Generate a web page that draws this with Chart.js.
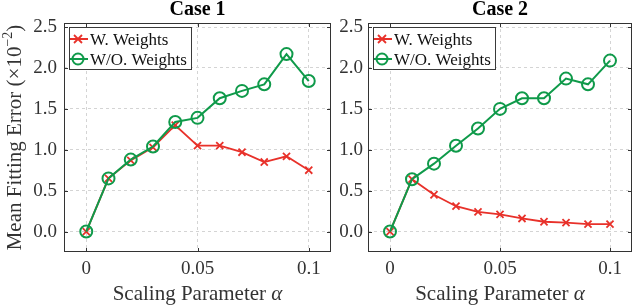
<!DOCTYPE html>
<html>
<head>
<meta charset="utf-8">
<script src="https://cdn.jsdelivr.net/npm/chart.js@4.4.1/dist/chart.umd.min.js"></script>
<style>
  html, body { margin: 0; padding: 0; background: #fff; }
  #wrap { position: relative; width: 640px; height: 305px; overflow: hidden; }
  #c1 { position: absolute; left: 0; top: 0; }
  #c2 { position: absolute; left: 340px; top: 0; }
</style>
</head>
<body>
<div id="wrap">
  <canvas id="c1" width="340" height="305"></canvas>
  <canvas id="c2" width="300" height="305"></canvas>
</div>
<script>
// values (units of 1e-2)
const alphas = [0, 0.01, 0.02, 0.03, 0.04, 0.05, 0.06, 0.07, 0.08, 0.09, 0.1];
const case1Weighted = [0.0, 0.65, 0.87, 1.03, 1.30, 1.05, 1.05, 0.97, 0.85, 0.92, 0.75];
const case1Unweighted = [0.0, 0.65, 0.88, 1.04, 1.34, 1.39, 1.63, 1.72, 1.80, 2.17, 1.84];
const case2Weighted = [0.0, 0.64, 0.45, 0.31, 0.24, 0.21, 0.16, 0.12, 0.11, 0.09, 0.09];
const case2Unweighted = [0.0, 0.64, 0.83, 1.05, 1.26, 1.50, 1.63, 1.63, 1.87, 1.80, 2.09];
const xTicks = [0, 0.05, 0.1];
const yTicks = [0, 0.5, 1.0, 1.5, 2.0, 2.5];
const seriesNames = ['W. Weights', 'W/O. Weights'];
const caseTitles = ['Case 1', 'Case 2'];

const RED = '#e8312a';
const GREEN = '#0f9a4a';
const SERIF = '"Liberation Serif", "Times New Roman", serif';

const toPoints = vals => alphas.map((a, i) => ({ x: a, y: vals[i] }));

// box, inner ticks, title, legend and axis titles
const decor = {
    id: 'decor',
    afterDraw(chart, args, opts) {
        const { ctx, chartArea: a, scales } = chart;
        const xs = scales.x, ys = scales.y;
        ctx.save();

        // axes box
        ctx.strokeStyle = '#333';
        ctx.lineWidth = 1;
        ctx.strokeRect(a.left + 0.5, a.top + 0.5, a.width - 1, a.height - 1);

        // inner tick marks
        ctx.beginPath();
        xTicks.forEach(v => {
            const px = Math.round(xs.getPixelForValue(v)) + 0.5;
            ctx.moveTo(px, a.bottom); ctx.lineTo(px, a.bottom - 4);
            ctx.moveTo(px, a.top); ctx.lineTo(px, a.top + 4);
        });
        yTicks.forEach(v => {
            const py = Math.round(ys.getPixelForValue(v)) + 0.5;
            ctx.moveTo(a.left, py); ctx.lineTo(a.left + 4, py);
            ctx.moveTo(a.right, py); ctx.lineTo(a.right - 4, py);
        });
        ctx.stroke();

        const cx = (a.left + a.right) / 2;

        // title
        ctx.fillStyle = '#000';
        ctx.font = 'bold 20px ' + SERIF;
        ctx.textAlign = 'center';
        ctx.textBaseline = 'alphabetic';
        ctx.fillText(opts.title, cx, 15);

        // legend
        const lx = a.left + 5, ly = a.top + 4;
        ctx.fillStyle = '#fff';
        ctx.fillRect(lx, ly, 122, 42);
        ctx.strokeStyle = '#3a3a3a';
        ctx.strokeRect(lx + 0.5, ly + 0.5, 122, 42);
        const rows = [
            { name: seriesNames[0], color: RED, mark: 'x' },
            { name: seriesNames[1], color: GREEN, mark: 'o' }
        ];
        rows.forEach((r, i) => {
            const cy = ly + 12 + i * 20;
            ctx.strokeStyle = r.color;
            ctx.lineWidth = 2;
            ctx.beginPath();
            ctx.moveTo(lx + 1, cy); ctx.lineTo(lx + 19, cy);
            ctx.stroke();
            const mx = lx + 9;
            ctx.beginPath();
            if (r.mark === 'x') {
                ctx.lineWidth = 1.8;
                ctx.moveTo(mx - 4, cy - 4); ctx.lineTo(mx + 4, cy + 4);
                ctx.moveTo(mx - 4, cy + 4); ctx.lineTo(mx + 4, cy - 4);
            } else {
                ctx.arc(mx, cy, 5.5, 0, Math.PI * 2);
            }
            ctx.stroke();
            ctx.fillStyle = '#111';
            ctx.font = '17px ' + SERIF;
            ctx.textAlign = 'left';
            ctx.fillText(r.name, lx + 21, cy + 6);
        });

        // x axis title with italic alpha
        ctx.fillStyle = '#333';
        const t1 = 'Scaling Parameter ', t2 = 'α';
        ctx.font = '21px ' + SERIF;
        const w1 = ctx.measureText(t1).width;
        ctx.font = 'italic 21px ' + SERIF;
        const w2 = ctx.measureText(t2).width;
        let sx = cx - (w1 + w2) / 2;
        ctx.textAlign = 'left';
        ctx.font = '21px ' + SERIF;
        ctx.fillText(t1, sx, 300);
        ctx.font = 'italic 21px ' + SERIF;
        ctx.fillText(t2, sx + w1, 300);

        // y axis title with superscript
        if (opts.yTitle) {
            const p1 = 'Mean Fitting Error (×10', p2 = '−2', p3 = ')';
            ctx.font = '21px ' + SERIF;
            const a1 = ctx.measureText(p1).width, a3 = ctx.measureText(p3).width;
            ctx.font = '14px ' + SERIF;
            const a2 = ctx.measureText(p2).width;
            const total = a1 + a2 + a3;
            ctx.translate(21, (a.top + a.bottom) / 2);
            ctx.rotate(-Math.PI / 2);
            let tx = -total / 2;
            ctx.font = '21px ' + SERIF;
            ctx.fillText(p1, tx, 0);
            ctx.font = '14px ' + SERIF;
            ctx.fillText(p2, tx + a1, -9);
            ctx.font = '21px ' + SERIF;
            ctx.fillText(p3, tx + a1 + a2, 0);
        }
        ctx.restore();
    }
};

function makeChart(id, title, weighted, unweighted, opts) {
    const ctx = document.getElementById(id).getContext('2d');
    return new Chart(ctx, {
        type: 'line',
        data: {
            datasets: [{
                label: seriesNames[1],
                data: toPoints(unweighted),
                borderColor: GREEN,
                backgroundColor: 'rgba(0,0,0,0)',
                borderWidth: 2,
                pointStyle: 'circle',
                pointRadius: 6,
                pointBorderWidth: 2,
                pointBorderColor: GREEN,
                pointBackgroundColor: 'rgba(0,0,0,0)',
                tension: 0
            }, {
                label: seriesNames[0],
                data: toPoints(weighted),
                borderColor: RED,
                backgroundColor: RED,
                borderWidth: 1.8,
                pointStyle: 'crossRot',
                pointRadius: 5,
                pointBorderWidth: 1.8,
                pointBorderColor: RED,
                tension: 0
            }]
        },
        options: {
            responsive: false,
            animation: false,
            layout: { padding: { top: 23, right: opts.padRight, left: 0, bottom: 0 } },
            plugins: {
                legend: { display: false },
                tooltip: { enabled: false },
                decor: { title: title, yTitle: opts.yTitle }
            },
            scales: {
                x: {
                    type: 'linear',
                    min: -0.01,
                    max: 0.11,
                    afterBuildTicks: s => { s.ticks = xTicks.map(v => ({ value: v })); },
                    afterFit: s => { s.height = 53; },
                    ticks: {
                        callback: v => String(v),
                        font: { family: SERIF, size: 19 },
                        color: '#333',
                        padding: 6,
                        maxRotation: 0
                    },
                    grid: { color: '#d4d4d4', lineWidth: 1, drawTicks: false },
                    border: { display: false, dash: [3, 3] }
                },
                y: {
                    min: -0.25,
                    max: 2.55,
                    afterBuildTicks: s => { s.ticks = yTicks.map(v => ({ value: v })); },
                    afterFit: s => { s.width = opts.yWidth; },
                    ticks: {
                        callback: v => v.toFixed(1),
                        font: { family: SERIF, size: 19 },
                        color: '#333',
                        padding: opts.tickPad
                    },
                    grid: { color: '#d4d4d4', lineWidth: 1, drawTicks: false },
                    border: { display: false, dash: [3, 3] }
                }
            }
        },
        plugins: [decor]
    });
}

makeChart('c1', caseTitles[0], case1Weighted, case1Unweighted,
    { yTitle: true, yWidth: 64, padRight: 9, tickPad: 7 });
makeChart('c2', caseTitles[1], case2Weighted, case2Unweighted,
    { yTitle: false, yWidth: 28, padRight: 5, tickPad: 5 });
</script>
</body>
</html>
